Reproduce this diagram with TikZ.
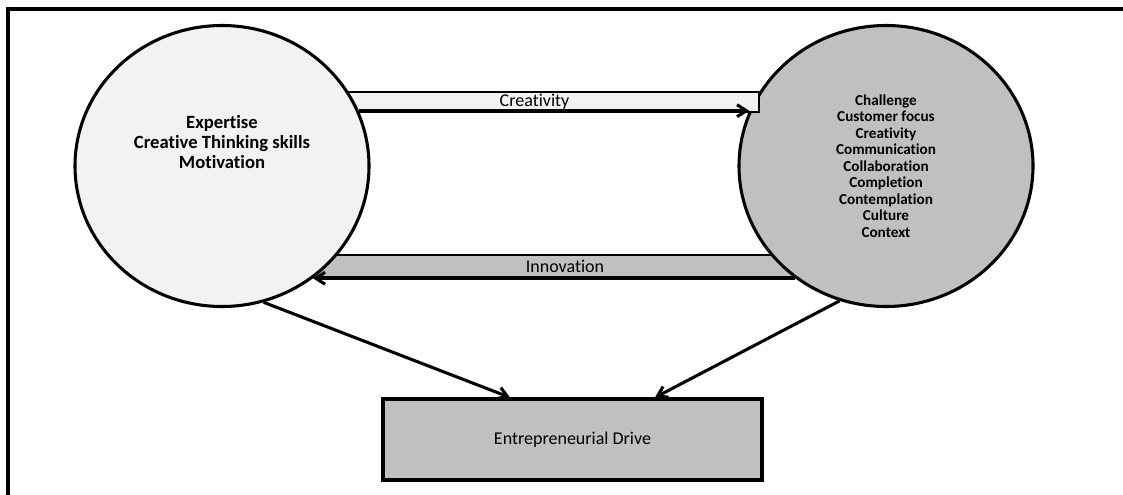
\documentclass[tikz,border=0pt]{standalone}
\usepackage{fontspec}
\setmainfont{Carlito}[Ligatures=NoCommon]
\usepackage{xcolor}
\definecolor{ltfill}{RGB}{242,242,242}
\definecolor{dkfill}{RGB}{192,192,192}
\usetikzlibrary{arrows.meta,positioning,shapes.geometric,calc}

\begin{document}
\begin{tikzpicture}[x=0.75pt, y=-0.75pt,
  circ/.style={ellipse, draw=black, line width=2.3pt,
               minimum width=220.5pt, minimum height=210.75pt, inner sep=0pt},
  band/.style={rectangle, draw=black, line width=1.6pt, inner sep=0pt,
               minimum height=15pt, font=\fontsize{13.5}{15}\selectfont},
  dbox/.style={rectangle, draw=black, line width=2.3pt, fill=dkfill,
               minimum width=284.25pt, minimum height=60.75pt,
               font=\fontsize{13.5}{15}\selectfont},
  arr/.style={-{Straight Barb[length=7pt,width=9pt]}, line width=2.3pt}
]
\useasboundingbox (0,0) rectangle (1123,495);

% Frame
\draw[line width=2.3pt] (8,500) -- (8,9) -- (1130,9);

% Bands
\node[band, fill=dkfill, minimum width=397.5pt, minimum height=16.5pt] (innoband) at (565,266) {Innovation};

% Organisation circle
\node[circ, fill=dkfill, align=center, font=\fontsize{11.4}{12.4}\selectfont\bfseries] (org) at (886,166)
  {Challenge\\Customer focus\\Creativity\\Communication\\Collaboration\\Completion\\Contemplation\\Culture\\Context};

\node[band, fill=ltfill, minimum width=336.75pt] (creaband) at (534.5,102) {Creativity};

% Individual circle
\node[circ, fill=ltfill,
  label={[yshift=18pt, align=center, font=\fontsize{14}{15}\selectfont\bfseries]center:Expertise\\Creative Thinking skills\\Motivation}]
  (indiv) at (222,166) {};

% Drive box
\node[dbox] (drive) at (572.5,439.5) {Entrepreneurial Drive};

% Arrows
\draw[arr] (indiv.22) -- (org.158);
\draw[arr] (org.-129) -- (indiv.-51);
\draw[arr] (indiv.-73.6) -- ([xshift=-46.9pt]drive.north);
\draw[arr] (org.-109.5) -- ([xshift=61.9pt]drive.north);
\end{tikzpicture}
\end{document}
